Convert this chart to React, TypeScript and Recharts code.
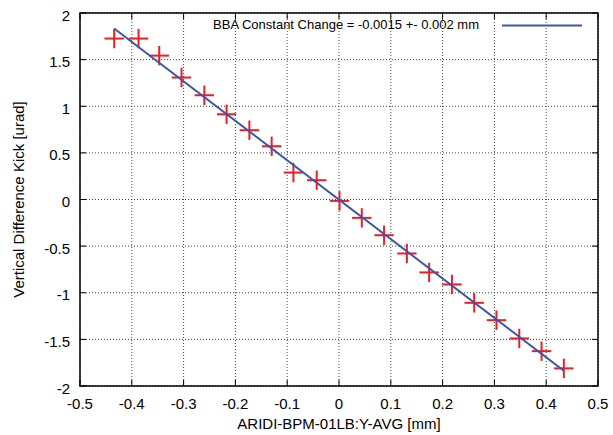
import React from "react";
import {
  ScatterChart,
  Scatter,
  XAxis,
  YAxis,
  CartesianGrid,
  ReferenceArea,
} from "recharts";

// measured kick vs. BPM reading
const bpmY = [
  -0.434, -0.387, -0.347, -0.304, -0.26, -0.217, -0.173, -0.13, -0.088, -0.043, 0.001,
  0.044, 0.087, 0.131, 0.174, 0.218, 0.261, 0.304, 0.348, 0.391, 0.434,
];
const kick = [
  1.726, 1.726, 1.543, 1.308, 1.118, 0.914, 0.743, 0.571, 0.289, 0.207, -0.015,
  -0.197, -0.383, -0.579, -0.782, -0.911, -1.108, -1.294, -1.49, -1.626, -1.811,
];

// linear fit end points
const fitX = [-0.434, 0.434];
const fitY = [1.833, -1.837];

const xTicks = [-0.5, -0.4, -0.3, -0.2, -0.1, 0, 0.1, 0.2, 0.3, 0.4, 0.5];
const yTicks = [-2, -1.5, -1, -0.5, 0, 0.5, 1, 1.5, 2];

const fitLabel = "BBA Constant Change = -0.0015 +- 0.002 mm";
const xTitle = "ARIDI-BPM-01LB:Y-AVG [mm]";
const yTitle = "Vertical Difference Kick [urad]";

const points = bpmY.map((x, i) => ({ x, y: kick[i] }));
const fit = fitX.map((x, i) => ({ x, y: fitY[i] }));

const FONT = "'Liberation Sans', Arial, sans-serif";
const RED = "#f01c24";
const BLUE = "#3a58a8";

// plot frame (chart margins)
const W = 613;
const H = 435;
const TOP = 13;
const RIGHT = 15;
const LEFT = 80;
const BOTTOM = 49;

const Plus = (props: any) => {
  const { cx, cy } = props;
  const r = 9.7;
  return (
    <g stroke={RED} strokeWidth={2}>
      <line x1={cx - r} y1={cy} x2={cx + r} y2={cy} />
      <line x1={cx} y1={cy - r} x2={cx} y2={cy + r} />
    </g>
  );
};

const NoDot = () => <g />;

// bottom ticks point inward, mirrored on the top edge
const XTick = (props: any) => {
  const { x, y, payload } = props;
  return (
    <g>
      <line x1={x} x2={x} y1={y} y2={y - 6} stroke="#000" />
      <line x1={x} x2={x} y1={TOP} y2={TOP + 6} stroke="#000" />
      <text
        x={x}
        y={y + 17}
        textAnchor="middle"
        dominantBaseline="central"
        fill="#000"
        fontSize={15}
        fontFamily={FONT}
      >
        {payload.value}
      </text>
    </g>
  );
};

const YTick = (props: any) => {
  const { x, y, payload } = props;
  return (
    <g>
      <line x1={x} x2={x + 6} y1={y} y2={y} stroke="#000" />
      <line x1={W - RIGHT} x2={W - RIGHT - 6} y1={y} y2={y} stroke="#000" />
      <text
        x={x - 10}
        y={y + 2}
        textAnchor="end"
        dominantBaseline="central"
        fill="#000"
        fontSize={15}
        fontFamily={FONT}
      >
        {payload.value}
      </text>
    </g>
  );
};

export default function App() {
  return (
    <div style={{ position: "absolute", left: 0, top: 0, width: W, height: H, background: "#fff" }}>
      <ScatterChart width={W} height={H} margin={{ top: TOP, right: RIGHT, left: 0, bottom: 0 }}>
        <CartesianGrid xAxisId="b" yAxisId="l" stroke="#444" strokeDasharray="1 2" />
        <XAxis
          xAxisId="b"
          type="number"
          dataKey="x"
          domain={[-0.5, 0.5]}
          ticks={xTicks}
          height={BOTTOM}
          axisLine={false}
          tickLine={false}
          tickSize={0}
          tickMargin={0}
          tick={<XTick />}
          label={{
            content: (p: any) => (
              <text
                x={p.viewBox.x + p.viewBox.width / 2}
                y={429}
                textAnchor="middle"
                fill="#000"
                fontSize={15}
                fontFamily={FONT}
              >
                {xTitle}
              </text>
            ),
          }}
        />
        <YAxis
          yAxisId="l"
          type="number"
          dataKey="y"
          domain={[-2, 2]}
          ticks={yTicks}
          width={LEFT}
          axisLine={false}
          tickLine={false}
          tickSize={0}
          tickMargin={0}
          tick={<YTick />}
          label={{
            content: (p: any) => {
              const cy = p.viewBox.y + p.viewBox.height / 2;
              return (
                <text
                  x={24}
                  y={cy}
                  transform={`rotate(-90 24 ${cy})`}
                  textAnchor="middle"
                  fill="#000"
                  fontSize={15}
                  fontFamily={FONT}
                >
                  {yTitle}
                </text>
              );
            },
          }}
        />
        <ReferenceArea
          xAxisId="b"
          yAxisId="l"
          x1={-0.5}
          x2={0.5}
          y1={-2}
          y2={2}
          fill="none"
          fillOpacity={0}
          stroke="#000"
          strokeWidth={1.5}
          strokeOpacity={1}
        />
        <Scatter
          xAxisId="b"
          yAxisId="l"
          data={points}
          shape={<Plus />}
          isAnimationActive={false}
        />
        <Scatter
          xAxisId="b"
          yAxisId="l"
          data={fit}
          line={{ stroke: BLUE, strokeWidth: 2 }}
          shape={<NoDot />}
          isAnimationActive={false}
        />
      </ScatterChart>
      <svg
        width={W}
        height={H}
        style={{ position: "absolute", left: 0, top: 0, pointerEvents: "none" }}
      >
        <text x={479} y={29} textAnchor="end" fill="#000" fontSize={13} fontFamily={FONT}>
          {fitLabel}
        </text>
        <line x1={502} x2={582} y1={25.5} y2={25.5} stroke={BLUE} strokeWidth={2} />
      </svg>
    </div>
  );
}
